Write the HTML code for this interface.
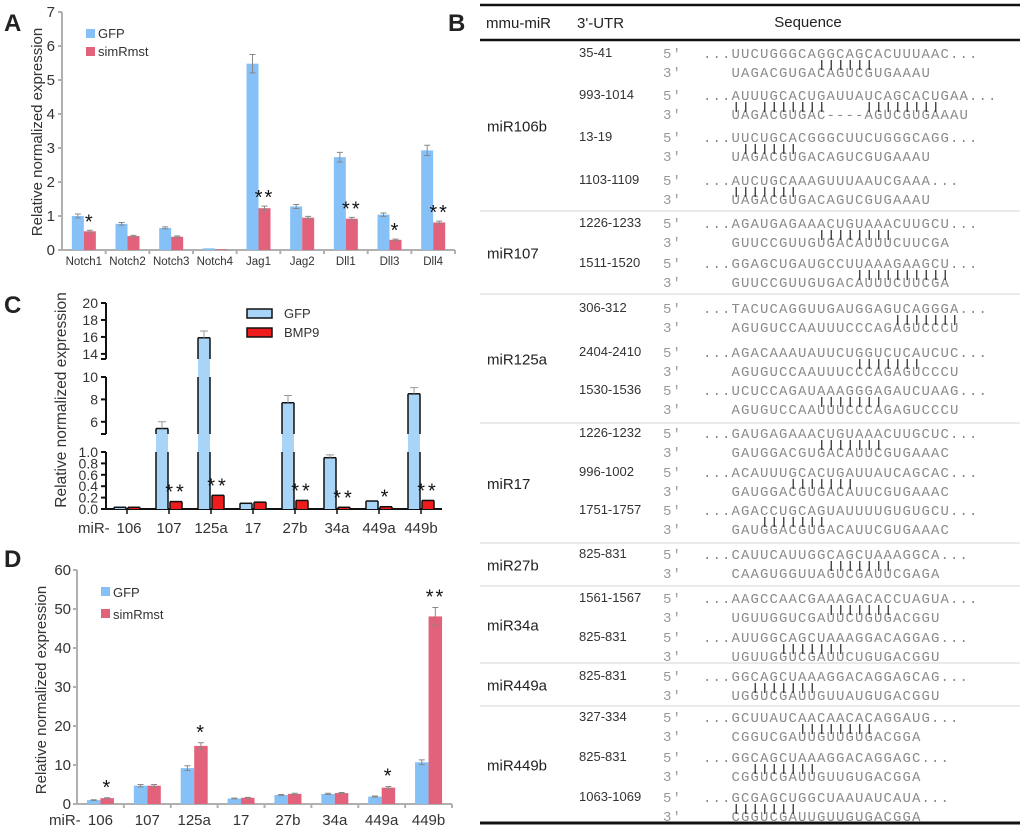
<!DOCTYPE html>
<html><head><meta charset="utf-8">
<style>
html,body{margin:0;padding:0;background:#fff;}
body{width:1020px;height:833px;position:relative;overflow:hidden;font-family:"Liberation Sans",sans-serif;}
svg{position:absolute;left:0;top:0;}
.seq{font-family:"Liberation Mono",monospace;font-size:14px;letter-spacing:1.1px;white-space:pre;}
</style></head>
<body>
<svg id="fig" width="1020" height="833" xmlns="http://www.w3.org/2000/svg"></svg>
<script>
// ---------- Panel A data ----------
const aCategories = ["Notch1","Notch2","Notch3","Notch4","Jag1","Jag2","Dll1","Dll3","Dll4"];
const aGfp = [1.0,0.77,0.65,0.05,5.48,1.28,2.73,1.04,2.93];
const aGfpErr = [0.06,0.04,0.03,0.0,0.27,0.06,0.14,0.05,0.15];
const aSim = [0.55,0.41,0.39,0.02,1.23,0.95,0.92,0.30,0.81];
const aSimErr = [0.03,0.02,0.02,0.0,0.06,0.04,0.04,0.02,0.04];
const aStars = ["*","","","","**","","**","*","**"];
const aTicks = [0,1,2,3,4,5,6,7];
// ---------- Panel C data ----------
const cCategories = ["106","107","125a","17","27b","34a","449a","449b"];
const cGfp = [0.03,5.4,15.9,0.1,7.7,0.9,0.14,8.5];
const cGfpErr = [0,0.6,0.8,0,0.65,0.05,0,0.55];
const cBmp = [0.03,0.13,0.24,0.12,0.15,0.03,0.04,0.15];
const cBmpErr = [0,0.01,0.03,0.01,0.05,0.01,0.01,0.02];
const cStars = ["","**","**","","**","**","*","**"];
const cTicksLow = ["0.0","0.2","0.4","0.6","0.8","1.0"];
const cTicksMid = [6,8,10];
const cTicksTop = [14,16,18,20];
// ---------- Panel D data ----------
const dCategories = ["106","107","125a","17","27b","34a","449a","449b"];
const dGfp = [1.0,4.7,9.2,1.4,2.3,2.6,1.9,10.7];
const dGfpErr = [0.1,0.3,0.6,0.1,0.15,0.15,0.15,0.6];
const dSim = [1.5,4.7,14.9,1.6,2.6,2.8,4.2,48.1];
const dSimErr = [0.1,0.3,0.8,0.1,0.15,0.15,0.3,2.3];
const dStars = ["*","","*","","","","*","**"];
const dTicks = [0,10,20,30,40,50,60];

const svg = document.getElementById('fig');
const NS = "http://www.w3.org/2000/svg";
function mk(tag, attrs, parent, txt){
  const e = document.createElementNS(NS, tag);
  for (const k in attrs) e.setAttribute(k, attrs[k]);
  if (txt !== undefined) e.textContent = txt;
  (parent || svg).appendChild(e);
  return e;
}
const BLUE = "#85c1f7", PINK = "#e2627c";

function letter(t, x, y){
  const e = mk('text',{x:x,y:y,'font-size':24,'font-weight':'bold',fill:'#222'},svg,t);
  
  
}
letter('A',4,31); letter('B',448,31); letter('C',4,313); letter('D',4,567);

// ===== Panel A =====
(function(){
  const g = mk('g',{});
  
  
  const x0=62, x1=455, yb=250, k=34;
  const y = v => yb - v*k;
  const cw = (x1-x0)/aCategories.length;
  const cx = i => x0 + cw*(i+0.5);
  mk('line',{x1:x0,y1:y(7),x2:x0,y2:yb,stroke:'#b0b0b0','stroke-width':2},g);
  mk('line',{x1:x0,y1:yb,x2:x1,y2:yb,stroke:'#b0b0b0','stroke-width':2},g);
  aTicks.forEach(t=>{
    mk('line',{x1:x0-4,y1:y(t),x2:x0,y2:y(t),stroke:'#b0b0b0','stroke-width':2},g);
    const l = mk('text',{x:x0-7,y:y(t)+5,'font-size':15,'text-anchor':'end',fill:'#333'},g,t);
    
    
  });
  aCategories.forEach((c,i)=>{
    mk('line',{x1:x0+cw*(i+1),y1:yb,x2:x0+cw*(i+1),y2:yb+4,stroke:'#b0b0b0','stroke-width':2},g);
    const l = mk('text',{x:cx(i),y:yb+15,'font-size':11.5,'text-anchor':'middle',fill:'#333'},g,c);
    
    
    const b1 = mk('rect',{x:cx(i)-12,y:y(aGfp[i]),width:12,height:yb-y(aGfp[i]),fill:BLUE},g);
    
    
    const b2 = mk('rect',{x:cx(i),y:y(aSim[i]),width:12,height:yb-y(aSim[i]),fill:PINK},g);
    
    
    [[cx(i)-6,aGfp[i],aGfpErr[i]],[cx(i)+6,aSim[i],aSimErr[i]]].forEach(([ex,v,e])=>{
      if(e<=0) return;
      mk('path',{d:`M${ex},${y(v+e)}V${y(v-e)}M${ex-3},${y(v+e)}H${ex+3}M${ex-3},${y(v-e)}H${ex+3}`,stroke:'#888','stroke-width':1,fill:'none'},g);
    });
    if(aStars[i]){
      const s = mk('text',{x:cx(i)+6,y:y(aSim[i]+aSimErr[i])-2,'font-size':20,'text-anchor':'middle',fill:'#111','letter-spacing':2},g,aStars[i]);
      
      
    }
  });
  const t = mk('text',{transform:'translate(42,132) rotate(-90)','font-size':15,'text-anchor':'middle',fill:'#333'},g,'Relative normalized expression');
  
  
  const lg = mk('g',{},g);
  
  
  mk('rect',{x:86,y:29,width:9,height:9,fill:BLUE},lg);
  mk('text',{x:98,y:38,'font-size':13,fill:'#333'},lg,'GFP');
  mk('rect',{x:86,y:47,width:9,height:9,fill:PINK},lg);
  mk('text',{x:98,y:56,'font-size':13,fill:'#333'},lg,'simRmst');
})();

// ===== Panel C (broken axis) =====
(function(){
  const g = mk('g',{});
  
  
  const x0=106, x1=442;
  const segs = [
    {lo:0, hi:1, yLo:509, yHi:452, top:452, bot:509},
    {lo:5, hi:10, yLo:433, yHi:377, top:377, bot:434},
    {lo:13.4, hi:20, yLo:359, yHi:303, top:303, bot:359}
  ];
  const segY = (s,v) => s.yLo - (v - s.lo)*(s.yLo - s.yHi)/(s.hi - s.lo);
  function y(v){
    if (v<=1) return segY(segs[0],v);
    if (v<5) return segs[0].top;
    if (v<=10) return segY(segs[1],v);
    if (v<13.4) return segs[1].top;
    return segY(segs[2],v);
  }
  segs.forEach(s=>mk('line',{x1:x0,y1:s.top,x2:x0,y2:s.bot,stroke:'#111','stroke-width':2},g));
  mk('line',{x1:x0-5,y1:434,x2:x0,y2:434,stroke:'#111','stroke-width':2},g);
  mk('line',{x1:x0-5,y1:359,x2:x0,y2:359,stroke:'#111','stroke-width':2},g);
  mk('line',{x1:x0,y1:509,x2:x1,y2:509,stroke:'#111','stroke-width':2},g);
  cTicksLow.forEach(t=>{
    const yy = y(parseFloat(t));
    mk('line',{x1:x0-5,y1:yy,x2:x0,y2:yy,stroke:'#111','stroke-width':2},g);
    const l = mk('text',{x:x0-8,y:yy+5,'font-size':14,'text-anchor':'end',fill:'#333'},g,t);
    
    
  });
  cTicksMid.concat(cTicksTop).forEach(t=>{
    const yy = y(t);
    mk('line',{x1:x0-5,y1:yy,x2:x0,y2:yy,stroke:'#111','stroke-width':2},g);
    const l = mk('text',{x:x0-8,y:yy+5,'font-size':14,'text-anchor':'end',fill:'#333'},g,t);
    
    
  });
  const cw = (x1-x0)/cCategories.length;
  const cx = i => x0 + cw*(i+0.5);
  const miR = mk('text',{x:78,y:533,'font-size':15,fill:'#333'},g,'miR-');
  
  
  function bar(xl, v, fill, name){
    const bg = mk('g',{},g);
    
    
    const w=12, top=y(v);
    mk('rect',{x:xl,y:top,width:w,height:509-top,fill:fill},bg);
    segs.forEach(s=>{
      const a = Math.max(top, s.top), b = s.bot;
      if (a < b) {
        mk('line',{x1:xl,y1:a,x2:xl,y2:b,stroke:'#111','stroke-width':1.5},bg);
        mk('line',{x1:xl+w,y1:a,x2:xl+w,y2:b,stroke:'#111','stroke-width':1.5},bg);
      }
    });
    mk('line',{x1:xl,y1:top,x2:xl+w,y2:top,stroke:'#111','stroke-width':1.5},bg);
  }
  cCategories.forEach((c,i)=>{
    mk('line',{x1:cx(i),y1:509,x2:cx(i),y2:514,stroke:'#111','stroke-width':1.5},g);
    const l = mk('text',{x:cx(i)+ (i===0?2:0),y:533,'font-size':15,'text-anchor':'middle',fill:'#333'},g,c);
    
    
    bar(cx(i)-13, cGfp[i], '#a8d4f7', 'bar-gfp-'+c);
    bar(cx(i)+1, cBmp[i], '#ee1c1c', 'bar-bmp9-'+c);
    if (cGfpErr[i]>0){
      const ex=cx(i)-7;
      mk('path',{d:`M${ex},${y(cGfp[i])}V${y(cGfp[i]+cGfpErr[i])}M${ex-4},${y(cGfp[i]+cGfpErr[i])}H${ex+4}`,stroke:'#999','stroke-width':1,fill:'none'},g);
    }
    if (cStars[i]){
      const s = mk('text',{x:cx(i)+7,y:y(cBmp[i])-3,'font-size':20,'text-anchor':'middle',fill:'#111','letter-spacing':3},g,cStars[i]);
      
      
    }
  });
  const t = mk('text',{transform:'translate(66,400) rotate(-90)','font-size':15.5,'text-anchor':'middle',fill:'#333'},g,'Relative normalized expression');
  
  
  const lg = mk('g',{},g);
  
  
  mk('rect',{x:247,y:309,width:25,height:9,fill:'#a8d4f7',stroke:'#111','stroke-width':1.5},lg);
  mk('text',{x:284,y:318,'font-size':13,fill:'#333'},lg,'GFP');
  mk('rect',{x:247,y:328,width:25,height:9,fill:'#ee1c1c',stroke:'#111','stroke-width':1.5},lg);
  mk('text',{x:284,y:337,'font-size':13,fill:'#333'},lg,'BMP9');
})();

// ===== Panel D =====
(function(){
  const g = mk('g',{});
  
  
  const x0=77, x1=452, yb=804, k=3.9;
  const y = v => yb - v*k;
  const cw = (x1-x0)/dCategories.length;
  const cx = i => x0 + cw*(i+0.5);
  mk('line',{x1:x0,y1:y(60),x2:x0,y2:yb,stroke:'#b0b0b0','stroke-width':2},g);
  mk('line',{x1:x0,y1:yb,x2:x1,y2:yb,stroke:'#b0b0b0','stroke-width':2},g);
  dTicks.forEach(t=>{
    mk('line',{x1:x0-4,y1:y(t),x2:x0,y2:y(t),stroke:'#b0b0b0','stroke-width':2},g);
    const l = mk('text',{x:x0-6,y:y(t)+5,'font-size':15,'text-anchor':'end',fill:'#333'},g,t);
    
    
  });
  const miR = mk('text',{x:49,y:825,'font-size':15,fill:'#333'},g,'miR-');
  
  
  dCategories.forEach((c,i)=>{
    mk('line',{x1:x0+cw*(i+1),y1:yb,x2:x0+cw*(i+1),y2:yb+4,stroke:'#b0b0b0','stroke-width':2},g);
    const l = mk('text',{x:cx(i),y:825,'font-size':15,'text-anchor':'middle',fill:'#333'},g,c);
    
    
    const b1 = mk('rect',{x:cx(i)-13.5,y:y(dGfp[i]),width:13.5,height:yb-y(dGfp[i]),fill:BLUE},g);
    
    
    const b2 = mk('rect',{x:cx(i),y:y(dSim[i]),width:13.5,height:yb-y(dSim[i]),fill:PINK},g);
    
    
    [[cx(i)-6.75,dGfp[i],dGfpErr[i]],[cx(i)+6.75,dSim[i],dSimErr[i]]].forEach(([ex,v,e])=>{
      mk('path',{d:`M${ex},${y(v+e)}V${y(v-e)}M${ex-3},${y(v+e)}H${ex+3}M${ex-3},${y(v-e)}H${ex+3}`,stroke:'#888','stroke-width':1,fill:'none'},g);
    });
    if(dStars[i]){
      const s = mk('text',{x:cx(i)+7,y:y(dSim[i]+dSimErr[i])-4,'font-size':20,'text-anchor':'middle',fill:'#111','letter-spacing':2},g,dStars[i]);
      
      
    }
  });
  const t = mk('text',{transform:'translate(46,690) rotate(-90)','font-size':15,'text-anchor':'middle',fill:'#333'},g,'Relative normalized expression');
  
  
  const lg = mk('g',{},g);
  
  
  mk('rect',{x:101,y:587,width:9,height:9,fill:BLUE},lg);
  mk('text',{x:113,y:597,'font-size':13,fill:'#333'},lg,'GFP');
  mk('rect',{x:101,y:609,width:9,height:9,fill:PINK},lg);
  mk('text',{x:113,y:619,'font-size':13,fill:'#333'},lg,'simRmst');
})();

// ===== Panel B table =====
const tRows = [
  {name:"miR106b", top:40, bot:211, entries:[
    {utr:"35-41", y:53, s5:"...UUCUGGGCAGGCAGCACUUUAAC...", s3:"   UAGACGUGACAGUCGUGAAAU", bars:[[12,17]]},
    {utr:"993-1014", y:95, s5:"...AUUUGCACUGAUUAUCAGCACUGAA...", s3:"   UAGACGUGAC----AGUCGUGAAAU", bars:[[3,4],[6,12],[17,24]]},
    {utr:"13-19", y:137, s5:"...UUCUGCACGGGCUUCUGGGCAGG...", s3:"   UAGACGUGACAGUCGUGAAAU", bars:[[4,9]]},
    {utr:"1103-1109", y:180, s5:"...AUCUGCAAAGUUUAAUCGAAA...", s3:"   UAGACGUGACAGUCGUGAAAU", bars:[[3,9]]}]},
  {name:"miR107", top:211, bot:294, entries:[
    {utr:"1226-1233", y:223, s5:"...AGAUGAGAAACUGUAAACUUGCU...", s3:"   GUUCCGUUGUGACAUUUCUUCGA", bars:[[12,19]]},
    {utr:"1511-1520", y:263, s5:"...GGAGCUGAUGCCUUAAAGAAGCU...", s3:"   GUUCCGUUGUGACAUUUCUUCGA", bars:[[16,25]]}]},
  {name:"miR125a", top:294, bot:423, entries:[
    {utr:"306-312", y:308, s5:"...TACUCAGGUUGAUGGAGUCAGGGA...", s3:"   AGUGUCCAAUUUCCCAGAGUCCCU", bars:[[20,26]]},
    {utr:"2404-2410", y:352, s5:"...AGACAAAUAUUCUGGUCUCAUCUC...", s3:"   AGUGUCCAAUUUCCCAGAGUCCCU", bars:[[16,22]]},
    {utr:"1530-1536", y:390, s5:"...UCUCCAGAUAAAGGGAGAUCUAAG...", s3:"   AGUGUCCAAUUUCCCAGAGUCCCU", bars:[[12,18]]}]},
  {name:"miR17", top:423, bot:543, entries:[
    {utr:"1226-1232", y:433, s5:"...GAUGAGAAACUGUAAACUUGCUC...", s3:"   GAUGGACGUGACAUUCGUGAAAC", bars:[[12,18]]},
    {utr:"996-1002", y:472, s5:"...ACAUUUGCACUGAUUAUCAGCAC...", s3:"   GAUGGACGUGACAUUCGUGAAAC", bars:[[9,15]]},
    {utr:"1751-1757", y:510, s5:"...AGACCUGCAGUAUUUUGUGUGCU...", s3:"   GAUGGACGUGACAUUCGUGAAAC", bars:[[6,12]]}]},
  {name:"miR27b", top:543, bot:586, entries:[
    {utr:"825-831", y:554, s5:"...CAUUCAUUGGCAGCUAAAGGCA...", s3:"   CAAGUGGUUAGUCGAUUCGAGA", bars:[[13,19]]}]},
  {name:"miR34a", top:586, bot:663, entries:[
    {utr:"1561-1567", y:598, s5:"...AAGCCAACGAAAGACACCUAGUA...", s3:"   UGUUGGUCGAUUCUGUGACGGU", bars:[[13,19]]},
    {utr:"825-831", y:637, s5:"...AUUGGCAGCUAAAGGACAGGAG...", s3:"   UGUUGGUCGAUUCUGUGACGGU", bars:[[8,14]]}]},
  {name:"miR449a", top:663, bot:706, entries:[
    {utr:"825-831", y:676, s5:"...GGCAGCUAAAGGACAGGAGCAG...", s3:"   UGGUCGAUUGUUAUGUGACGGU", bars:[[5,11]]}]},
  {name:"miR449b", top:706, bot:823, entries:[
    {utr:"327-334", y:717, s5:"...GCUUAUCAACAACACAGGAUG...", s3:"   CGGUCGAUUGUUGUGACGGA", bars:[[10,17]]},
    {utr:"825-831", y:757, s5:"...GGCAGCUAAAGGACAGGAGC...", s3:"   CGGUCGAUUGUUGUGACGGA", bars:[[5,11]]},
    {utr:"1063-1069", y:797, s5:"...GCGAGCUGGCUAAUAUCAUA...", s3:"   CGGUCGAUUGUUGUGACGGA", bars:[[3,9]]}]}
];
(function(){
  const g = mk('g',{});
  
  
  mk('line',{x1:480,y1:5,x2:1020,y2:5,stroke:'#111','stroke-width':2.5},g);
  mk('line',{x1:480,y1:40,x2:1020,y2:40,stroke:'#111','stroke-width':2.5},g);
  mk('line',{x1:480,y1:823,x2:1020,y2:823,stroke:'#111','stroke-width':3},g);
  const h = mk('g',{},g);
  
  
  mk('text',{x:486,y:28,'font-size':15,fill:'#222'},h,'mmu-miR');
  mk('text',{x:577,y:28,'font-size':15,fill:'#222'},h,"3'-UTR");
  mk('text',{x:808,y:27,'font-size':15,'text-anchor':'middle',fill:'#222'},h,'Sequence');
  const CW = 9.5, X0 = 703;
  tRows.forEach((r,ri)=>{
    const rg = mk('g',{},g);
    
    
    if (ri>0) mk('line',{x1:480,y1:r.top,x2:1020,y2:r.top,stroke:'#ddd','stroke-width':1.2},rg);
    mk('text',{x:487,y:(r.top+r.bot)/2+6,'font-size':15,fill:'#222'},rg,r.name);
    r.entries.forEach(e=>{
      mk('text',{x:579,y:e.y+4,'font-size':13,fill:'#333'},rg,e.utr);
      mk('text',{x:663,y:e.y+5,class:'seq',fill:'#999'},rg,"5'");
      mk('text',{x:663,y:e.y+24,class:'seq',fill:'#999'},rg,"3'");
      mk('text',{x:X0,y:e.y+5,class:'seq',fill:'#8a8a8a'},rg,e.s5);
      mk('text',{x:X0,y:e.y+24,class:'seq',fill:'#8a8a8a'},rg,e.s3);
      e.bars.forEach(([a,b])=>{
        for(let c=a;c<=b;c++){
          const bx = X0 + (c+0.5)*CW;
          mk('line',{x1:bx,y1:e.y+7,x2:bx,y2:e.y+17,stroke:'#333','stroke-width':1.3},rg);
        }
      });
    });
  });
})();
</script>
</body></html>
